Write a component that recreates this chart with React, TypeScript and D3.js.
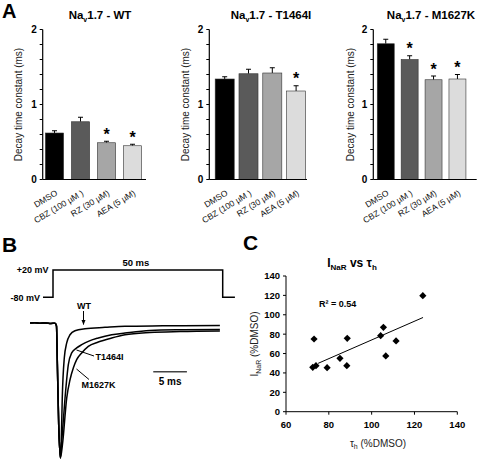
import React from 'react';
import * as d3 from 'd3';

// ---------- Panel A data ----------
const drugs = ['DMSO', 'CBZ (100 µM )', 'RZ (30 µM)', 'AEA (5 µM)'];
const barFills = ['#000000', '#5a5a5a', '#a6a6a6', '#dcdcdc'];
const variantNames = ['WT', 'T1464I', 'M1627K'];
const wtMeans = [0.62, 0.77, 0.49, 0.45];
const wtErrors = [0.03, 0.06, 0.02, 0.02];
const wtSig = [false, false, true, true];
const t1464iMeans = [1.34, 1.41, 1.42, 1.18];
const t1464iErrors = [0.03, 0.06, 0.07, 0.07];
const t1464iSig = [false, false, false, true];
const m1627kMeans = [1.81, 1.6, 1.33, 1.34];
const m1627kErrors = [0.06, 0.05, 0.05, 0.06];
const m1627kSig = [false, true, true, true];
const yTicksA = [0, 0.2, 0.4, 0.6, 0.8, 1, 1.2, 1.4, 1.6, 1.8, 2];
const yLabelsA = [0, 1, 2];

// ---------- Panel B data (time in ms from step onset, current in % of peak) ----------
const onsetTrace: [number, number][] = [
  [-3.7, 0.3], [-3.0, 0.5], [-2.2, 0.1], [-1.4, 0.2], [-0.6, -0.1], [0.0, 0], [0.22, -2], [0.35, -30], [0.55, -75], [0.8, -100],
];
const wtTrace: [number, number][] = [
  [0.97, -79], [1.08, -55.5], [1.38, -25.8], [1.74, -14.6], [2.23, -8.5], [2.97, -5.5], [4.46, -4.0], [7.43, -3.0], [10.4, -2.2], [16, -1.9], [24.5, -1.6],
];
const t1464iTrace: [number, number][] = [
  [1.01, -87], [1.49, -55.5], [1.98, -30.7], [2.48, -22], [3.22, -18.3], [3.97, -15.9], [4.95, -13.4], [6.43, -10.9], [8.42, -8.5], [10.4, -7.2], [14.1, -5.3], [19, -4.8], [24.5, -4.6],
];
const m1627kTrace: [number, number][] = [
  [1.11, -90], [1.74, -55.5], [2.23, -41.9], [2.72, -33.2], [3.22, -27], [3.97, -22], [4.95, -17.1], [6.43, -13.9], [8.42, -10.9], [10.4, -8.5], [14.1, -6.8], [18.6, -6.1], [24.5, -5.7],
];
const protocolT = [-2.95, 0, 0, 50, 50, 53.6];
const protocolV = [-80, -80, 20, 20, -80, -80];
const scaleBarMs = [14.6, 19.6];

// ---------- Panel C data ----------
const tauH = [72.5, 74.0, 79.2, 73.1, 85.2, 88.4, 88.6, 104.2, 105.5, 106.6, 111.4, 123.9];
const inaR = [45.8, 47.5, 45.4, 75.0, 55.1, 47.5, 75.7, 78.4, 87.1, 57.5, 73.0, 119.7];
const trendX = [75, 124];
const trendY = [49.9, 97.2];
const xTicksC = [60, 80, 100, 120, 140];
const yTicksC = [0, 20, 40, 60, 80, 100, 120, 140];

const FONT = "'Liberation Sans', Arial, Helvetica, sans-serif";

const barPanels = [
  { name: variantNames[0], means: wtMeans, errs: wtErrors, sig: wtSig, axisX: 42.7, r0: 41.5, r1: 145.5, pad: 0.3, axisEnd: 146, titleX: 100, yLabX: 22 },
  { name: variantNames[1], means: t1464iMeans, errs: t1464iErrors, sig: t1464iSig, axisX: 209.3, r0: 212.8, r1: 308, pad: 0.2, axisEnd: 307, titleX: 271, yLabX: 189 },
  { name: variantNames[2], means: m1627kMeans, errs: m1627kErrors, sig: m1627kSig, axisX: 373.3, r0: 373.8, r1: 469.4, pad: 0.29, axisEnd: 476.7, titleX: 431, yLabX: 354 },
];

function BarPanel({ p }: { p: typeof barPanels[number] }) {
  const y = d3.scaleLinear().domain([0, 2]).range([179.5, 29.5]);
  const x = d3.scaleBand<string>().domain(drugs).range([p.r0, p.r1]).paddingInner(p.pad).paddingOuter(p.pad / 2);
  const bw = x.bandwidth();
  return (
    <g fontFamily={FONT}>
      <text x={p.titleX} y={19} textAnchor="middle" fontWeight="bold" fontSize={11.5}>
        <tspan>Na</tspan>
        <tspan dy={2.5} fontSize={7}>v</tspan>
        <tspan dy={-2.5}>1.7 - {p.name}</tspan>
      </text>
      <text transform={`translate(${p.yLabX},${y(1)}) rotate(-90)`} textAnchor="middle" fontSize={10} fill="#222">
        Decay time constant (ms)
      </text>
      {drugs.map((d, i) => {
        const top = y(p.means[i]);
        const errTop = y(p.means[i] + p.errs[i]);
        const cx = (x(d) as number) + bw / 2;
        return (
          <g key={d}>
            <line x1={cx} x2={cx} y1={top} y2={errTop} stroke="#000" strokeWidth={1} />
            <line x1={cx - 2.5} x2={cx + 2.5} y1={errTop} y2={errTop} stroke="#000" strokeWidth={1} />
            <rect x={x(d)} y={top} width={bw} height={y(0) - top} fill={barFills[i]} stroke="#333" strokeWidth={0.6} />
            {p.sig[i] && (
              <text x={cx} y={errTop - 1.5} textAnchor="middle" fontWeight="bold" fontSize={16}>*</text>
            )}
            <text transform={`translate(${cx + 0.5},${y(0) + 10}) rotate(-31)`} textAnchor="end" fontSize={8.5} dy="0.71em" fill="#111">
              {d}
            </text>
          </g>
        );
      })}
      <line x1={p.axisX} x2={p.axisX} y1={y(0)} y2={y(2)} stroke="#000" strokeWidth={1.2} />
      {yTicksA.map((t) => (
        <line key={t} x1={p.axisX - 3} x2={p.axisX} y1={y(t)} y2={y(t)} stroke="#000" strokeWidth={1} />
      ))}
      {yLabelsA.map((t) => (
        <text key={t} x={p.axisX - 6} y={y(t)} dy="0.36em" textAnchor="end" fontWeight="bold" fontSize={10}>{t}</text>
      ))}
      <line x1={p.axisX} x2={p.axisEnd} y1={y(0)} y2={y(0)} stroke="#000" strokeWidth={1.2} />
    </g>
  );
}

function PanelB() {
  const tx = d3.scaleLinear().domain([0, 5]).range([55, 88.65]);
  const iy = d3.scaleLinear().domain([0, -100]).range([323.3, 458]);
  const px = d3.scaleLinear().domain([0, 50]).range([53, 222.7]);
  const pv = d3.scaleLinear().domain([-80, 20]).range([297.3, 270]);
  const line = d3.line<[number, number]>().x((d) => tx(d[0])).y((d) => iy(d[1])).curve(d3.curveMonotoneX);
  const protoPts = protocolT.map((t, i) => [px(t), pv(protocolV[i])] as [number, number]);
  const protoPath = d3.line()(protoPts) as string;
  const traces = [wtTrace, t1464iTrace, m1627kTrace];
  return (
    <g fontFamily={FONT}>
      <defs>
        <marker id="arr" viewBox="0 0 10 10" refX={9} refY={5} markerWidth={5} markerHeight={5} orient="auto">
          <path d="M0,1 L10,5 L0,9 z" fill="#000" />
        </marker>
      </defs>
      <text x={2} y={251.5} fontWeight="bold" fontSize={21}>B</text>
      <path d={protoPath} fill="none" stroke="#000" strokeWidth={1.5} />
      <text x={48.5} y={272.7} textAnchor="end" fontWeight="bold" fontSize={9}>+20 mV</text>
      <text x={40} y={300.5} textAnchor="end" fontWeight="bold" fontSize={9}>-80 mV</text>
      <text x={px(25) - 2} y={266} textAnchor="middle" fontWeight="bold" fontSize={9.5}>50 ms</text>
      {traces.map((tr, i) => (
        <path key={i} d={line([...onsetTrace, ...tr]) as string} fill="none" stroke="#000" strokeWidth={1.5} />
      ))}
      <text x={84} y={309} textAnchor="middle" fontWeight="bold" fontSize={9}>WT</text>
      <line x1={83.5} y1={311} x2={83.5} y2={324.5} stroke="#000" strokeWidth={1} markerEnd="url(#arr)" />
      <text x={95.5} y={360} fontWeight="bold" fontSize={9}>T1464I</text>
      <line x1={94} y1={356} x2={76.5} y2={350} stroke="#000" strokeWidth={1} />
      <text x={81.5} y={388} fontWeight="bold" fontSize={9}>M1627K</text>
      <line x1={89} y1={379.5} x2={76.5} y2={369} stroke="#000" strokeWidth={1} />
      <line x1={tx(scaleBarMs[0])} x2={tx(scaleBarMs[1])} y1={371.7} y2={371.7} stroke="#444" strokeWidth={1.6} />
      <text x={(tx(scaleBarMs[0]) + tx(scaleBarMs[1])) / 2} y={385} textAnchor="middle" fontWeight="bold" fontSize={10}>5 ms</text>
    </g>
  );
}

function PanelC() {
  const x = d3.scaleLinear().domain([60, 140]).range([286, 457.3]);
  const y = d3.scaleLinear().domain([0, 140]).range([411.7, 276]);
  const sym = d3.symbol().type(d3.symbolSquare).size(26)() as string;
  return (
    <g fontFamily={FONT}>
      <text x={243} y={250} fontWeight="bold" fontSize={21}>C</text>
      <text x={352} y={266.5} textAnchor="middle" fontWeight="bold" fontSize={12}>
        <tspan>I</tspan>
        <tspan dy={3} fontSize={8}>NaR</tspan>
        <tspan dy={-3}> vs </tspan>
        <tspan>τ</tspan>
        <tspan dy={3} fontSize={8}>h</tspan>
      </text>
      <line x1={x(60)} x2={x(60)} y1={y(0)} y2={y(140)} stroke="#000" strokeWidth={1} />
      <line x1={x(60)} x2={x(140)} y1={y(0)} y2={y(0)} stroke="#000" strokeWidth={1} />
      {yTicksC.map((t) => (
        <g key={t}>
          <line x1={x(60) - 3} x2={x(60)} y1={y(t)} y2={y(t)} stroke="#000" />
          <text x={280} y={y(t)} dy="0.36em" textAnchor="end" fontWeight="bold" fontSize={9.5}>{t}</text>
        </g>
      ))}
      {xTicksC.map((t) => (
        <g key={t}>
          <line x1={x(t)} x2={x(t)} y1={y(0)} y2={y(0) + 3} stroke="#000" />
          <text x={x(t)} y={428.3} textAnchor="middle" fontWeight="bold" fontSize={9.5}>{t}</text>
        </g>
      ))}
      <line x1={x(trendX[0])} y1={y(trendY[0])} x2={x(trendX[1])} y2={y(trendY[1])} stroke="#000" strokeWidth={1} />
      {tauH.map((t, i) => (
        <path key={i} d={sym} transform={`translate(${x(t)},${y(inaR[i])}) rotate(45)`} fill="#000" />
      ))}
      <text x={319} y={306.7} fontWeight="bold" fontSize={9}>R² = 0.54</text>
      <text x={378} y={446.7} textAnchor="middle" fontSize={10} fill="#222">
        <tspan>τ</tspan>
        <tspan dy={2.5} fontSize={7}>h</tspan>
        <tspan dy={-2.5}> (%DMSO)</tspan>
      </text>
      <text transform={`translate(258,344) rotate(-90)`} textAnchor="middle" fontSize={10} fill="#222">
        <tspan>I</tspan>
        <tspan dy={2.5} fontSize={7}>NaR</tspan>
        <tspan dy={-2.5}> (%DMSO)</tspan>
      </text>
    </g>
  );
}

export default function App() {
  return (
    <svg width={480} height={462} style={{ position: 'absolute', left: 0, top: 0, display: 'block', background: '#fff' }}>
      <rect width={480} height={462} fill="#fff" />
      <text x={2} y={17.5} fontFamily={FONT} fontWeight="bold" fontSize={20}>A</text>
      {barPanels.map((p) => (
        <BarPanel key={p.name} p={p} />
      ))}
      <PanelB />
      <PanelC />
    </svg>
  );
}
